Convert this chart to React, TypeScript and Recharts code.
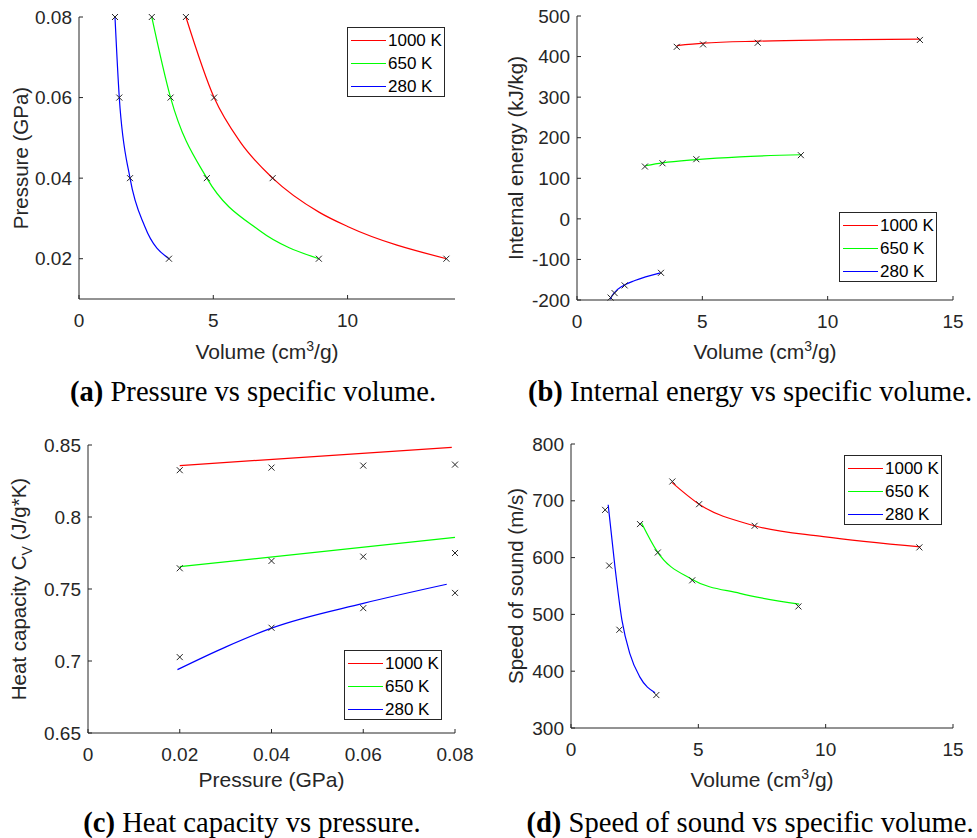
import React from 'react';
import { ComposedChart, Label, Legend, Line, Scatter, XAxis, YAxis } from 'recharts';

const seriesNames = ['1000 K', '650 K', '280 K'];
const seriesColors = ['#ff0000', '#00ff00', '#0000ff'];

// state points (same volumes are used in a, b and d)
const pressureLevels = [0.08, 0.06, 0.04, 0.02];
const volume1000 = [3.98, 5.03, 7.21, 13.68];
const volume650 = [2.71, 3.41, 4.76, 8.93];
const volume280 = [1.34, 1.5, 1.9, 3.35];

const energy1000 = [424, 430, 434, 441];
const energy650 = [129, 137, 147, 157];
const energy280 = [-194, -183, -164, -133];

const cvPressure = [0.02, 0.04, 0.06, 0.08];
const cv1000 = [0.8325, 0.8343, 0.8357, 0.8364];
const cv650 = [0.7644, 0.7695, 0.7725, 0.775];
const cv280 = [0.7027, 0.7231, 0.7367, 0.7473];

const sound1000 = [734, 694, 656, 618];
const sound650 = [659, 609, 560, 514];
const sound280 = [684, 586, 473, 358];

// fitted curves as [x, y]
const fitP1000 = [[3.98, 0.08], [5.03, 0.06], [6.0, 0.049], [7.21, 0.04], [8.95, 0.0315], [10, 0.028], [13.68, 0.02]];
const fitP650 = [[2.71, 0.08], [3.41, 0.06], [4.76, 0.04], [6.72, 0.027], [8.93, 0.02]];
const fitP280 = [[1.34, 0.08], [1.5, 0.06], [1.9, 0.04], [2.45, 0.028], [3.35, 0.02]];

const fitE1000 = [[3.98, 427], [5.04, 433], [7.22, 438], [10, 441], [13.68, 443]];
const fitE650 = [[2.73, 131], [3.41, 138], [4.76, 146], [6.5, 153], [8.94, 158]];
const fitE280 = [[1.32, -198], [1.46, -184], [1.86, -164], [2.31, -152], [3.33, -133]];

const fitC1000 = [[0.02, 0.8357], [0.0793, 0.8484]];
const fitC650 = [[0.02, 0.7655], [0.08, 0.7858]];
const fitC280 = [[0.0195, 0.694], [0.0302, 0.71], [0.04, 0.7228], [0.06, 0.74], [0.0782, 0.7533]];

const fitS1000 = [[3.97, 732], [5.03, 694], [7.21, 656], [9.91, 637], [13.72, 619]];
const fitS650 = [[2.77, 661], [3.38, 611], [4.74, 562], [6.63, 537], [8.96, 518]];
const fitS280 = [[1.46, 693], [1.72, 586], [2.0, 490], [2.31, 431], [2.7, 390], [3.3, 362]];

// ticks
const volumeTicksA = [0, 5, 10];
const volumeTicks = [0, 5, 10, 15];
const pressureTicks = [0.02, 0.04, 0.06, 0.08];
const energyTicks = [-200, -100, 0, 100, 200, 300, 400, 500];
const cvPressureTicks = [0, 0.02, 0.04, 0.06, 0.08];
const cvTicks = [0.65, 0.7, 0.75, 0.8, 0.85];
const soundTicks = [300, 400, 500, 600, 700, 800];

const ink = '#262626';
const sans = '"Liberation Sans", Arial, sans-serif';
const serif = '"Liberation Serif", "Times New Roman", serif';

const pts = (xs: number[], ys: number[]) => xs.map((x, i) => ({ x, y: ys[i] }));
const curve = (pairs: number[][]) => pairs.map(([x, y]) => ({ x, y }));

const Cross = (props: any) => {
  const { cx, cy } = props;
  const s = 3;
  return (
    <path
      d={`M${cx - s},${cy - s}L${cx + s},${cy + s}M${cx - s},${cy + s}L${cx + s},${cy - s}`}
      stroke={ink}
      strokeWidth={1}
      fill="none"
    />
  );
};

const BottomTick = (props: any) => {
  const { x, y, payload } = props;
  return (
    <g>
      <line x1={x} x2={x} y1={y} y2={y - 4} stroke={ink} />
      <text x={x} y={y + 28} textAnchor="middle" fontSize={19} fill={ink} fontFamily={sans}>
        {payload.value}
      </text>
    </g>
  );
};

const LeftTick = (props: any) => {
  const { x, y, payload } = props;
  return (
    <g>
      <line x1={x} x2={x + 4} y1={y} y2={y} stroke={ink} />
      <text x={x - 7} y={y} dy="0.35em" textAnchor="end" fontSize={19} fill={ink} fontFamily={sans}>
        {payload.value}
      </text>
    </g>
  );
};

const TopTick = (props: any) => {
  const { x, y } = props;
  return <line x1={x} x2={x} y1={y} y2={y + 4} stroke={ink} />;
};

const RightTick = (props: any) => {
  const { x, y } = props;
  return <line x1={x} x2={x - 4} y1={y} y2={y} stroke={ink} />;
};

function LegendBox() {
  return (
    <div
      style={{
        boxSizing: 'border-box',
        width: 98,
        height: 70,
        border: `1px solid ${ink}`,
        background: '#fff',
        fontFamily: sans,
        fontSize: 17,
        color: '#000',
        paddingTop: 1,
      }}
    >
      {seriesNames.map((name, i) => (
        <div key={name} style={{ display: 'flex', alignItems: 'center', height: 23 }}>
          <svg width={35} height={3} style={{ marginLeft: 3, marginRight: 2 }}>
            <line x1={0} x2={35} y1={1.5} y2={1.5} stroke={seriesColors[i]} strokeWidth={1.2} />
          </svg>
          <span style={{ lineHeight: '23px' }}>{name}</span>
        </div>
      ))}
    </div>
  );
}

interface PanelProps {
  frame: { left: number; top: number; width: number; height: number };
  plot: { left: number; top: number; right: number; bottom: number };
  xDomain: number[];
  xTicks: number[];
  yDomain: number[];
  yTicks: number[];
  markers: { x: number; y: number }[][];
  curves: { x: number; y: number }[][];
  xLabel: React.ReactNode;
  xLabelGap: number;
  yLabel: React.ReactNode;
  yLabelX: number;
  yLabelY: number;
  legendPos: { left: number; top: number };
}

function Panel(p: PanelProps) {
  const { frame, plot } = p;
  const cx = (plot.left + plot.right) / 2;
  return (
    <div style={{ position: 'absolute', left: frame.left, top: frame.top }}>
      <ComposedChart
        width={frame.width}
        height={frame.height}
        margin={{ top: plot.top, right: frame.width - plot.right, bottom: 0, left: 0 }}
      >
        <XAxis
          dataKey="x"
          type="number"
          domain={p.xDomain}
          ticks={p.xTicks}
          interval={0}
          height={frame.height - plot.bottom}
          tickSize={0}
          tickMargin={0}
          tickLine={false}
          tick={BottomTick}
          axisLine={{ stroke: ink }}
        >
          <Label
            content={() => (
              <text x={cx} y={plot.bottom + p.xLabelGap} textAnchor="middle" fontSize={21} fill={ink} fontFamily={sans}>
                {p.xLabel}
              </text>
            )}
          />
        </XAxis>
        <XAxis
          xAxisId="top"
          orientation="top"
          type="number"
          domain={p.xDomain}
          ticks={p.xTicks}
          interval={0}
          height={0}
          tickSize={0}
          tickMargin={0}
          tickLine={false}
          tick={TopTick}
          axisLine={{ stroke: ink }}
          allowDataOverflow
        />
        <YAxis
          dataKey="y"
          type="number"
          domain={p.yDomain}
          ticks={p.yTicks}
          interval={0}
          width={plot.left}
          tickSize={0}
          tickMargin={0}
          tickLine={false}
          tick={LeftTick}
          axisLine={{ stroke: ink }}
        >
          <Label
            content={() => (
              <text
                transform={`translate(${p.yLabelX},${p.yLabelY}) rotate(-90)`}
                textAnchor="middle"
                fontSize={20.5}
                fill={ink}
                fontFamily={sans}
              >
                {p.yLabel}
              </text>
            )}
          />
        </YAxis>
        <YAxis
          yAxisId="right"
          orientation="right"
          type="number"
          domain={p.yDomain}
          ticks={p.yTicks}
          interval={0}
          width={0}
          tickSize={0}
          tickMargin={0}
          tickLine={false}
          tick={RightTick}
          axisLine={{ stroke: ink }}
          allowDataOverflow
        />
        {p.curves.map((c, i) => (
          <Line
            key={`c${i}`}
            data={c}
            dataKey="y"
            type="monotone"
            stroke={seriesColors[i]}
            strokeWidth={1.2}
            dot={false}
            activeDot={false}
            name={seriesNames[i]}
            isAnimationActive={false}
          />
        ))}
        {p.markers.map((m, i) => (
          <Scatter key={`m${i}`} data={m} shape={Cross} legendType="none" isAnimationActive={false} />
        ))}
        <Legend
          layout="vertical"
          align="center"
          verticalAlign="middle"
          wrapperStyle={{ position: 'absolute', left: p.legendPos.left, top: p.legendPos.top, width: 98, height: 70 }}
          content={() => <LegendBox />}
        />
      </ComposedChart>
    </div>
  );
}

const volumeLabel = (
  <>
    Volume (cm<tspan dy={-8} fontSize={14}>3</tspan>
    <tspan dy={8}>/g)</tspan>
  </>
);

const cvLabel = (
  <>
    Heat capacity C<tspan dy={6} fontSize={14}>V</tspan>
    <tspan dy={-6}> (J/g*K)</tspan>
  </>
);

function Caption({ center, top, tag, text }: { center: number; top: number; tag: string; text: string }) {
  return (
    <div
      style={{
        position: 'absolute',
        left: center - 260,
        top,
        width: 520,
        textAlign: 'center',
        whiteSpace: 'nowrap',
        fontFamily: serif,
        fontSize: 28.6,
        lineHeight: '28.6px',
        color: '#000',
      }}
    >
      <b>{tag}</b> {text}
    </div>
  );
}

export default function App() {
  return (
    <div style={{ position: 'absolute', left: 0, top: 0, width: 977, height: 838, background: '#fff', overflow: 'hidden' }}>
      <Panel
        frame={{ left: 0, top: 0, width: 480, height: 370 }}
        plot={{ left: 79, top: 17, right: 455, bottom: 299 }}
        xDomain={[0, 14]}
        xTicks={volumeTicksA}
        yDomain={[0.01, 0.08]}
        yTicks={pressureTicks}
        markers={[pts(volume1000, pressureLevels), pts(volume650, pressureLevels), pts(volume280, pressureLevels)]}
        curves={[curve(fitP1000), curve(fitP650), curve(fitP280)]}
        xLabel={volumeLabel}
        xLabelGap={60}
        yLabel="Pressure (GPa)"
        yLabelX={27.5}
        yLabelY={158}
        legendPos={{ left: 347, top: 27 }}
      />
      <Panel
        frame={{ left: 490, top: 0, width: 487, height: 370 }}
        plot={{ left: 87, top: 16, right: 463, bottom: 300 }}
        xDomain={[0, 15]}
        xTicks={volumeTicks}
        yDomain={[-200, 500]}
        yTicks={energyTicks}
        markers={[pts(volume1000, energy1000), pts(volume650, energy650), pts(volume280, energy280)]}
        curves={[curve(fitE1000), curve(fitE650), curve(fitE280)]}
        xLabel={volumeLabel}
        xLabelGap={59}
        yLabel="Internal energy (kJ/kg)"
        yLabelX={32.6}
        yLabelY={158}
        legendPos={{ left: 349, top: 212 }}
      />
      <Panel
        frame={{ left: 0, top: 420, width: 480, height: 380 }}
        plot={{ left: 88, top: 25, right: 455, bottom: 313 }}
        xDomain={[0, 0.08]}
        xTicks={cvPressureTicks}
        yDomain={[0.65, 0.85]}
        yTicks={cvTicks}
        markers={[pts(cvPressure, cv1000), pts(cvPressure, cv650), pts(cvPressure, cv280)]}
        curves={[curve(fitC1000), curve(fitC650), curve(fitC280)]}
        xLabel="Pressure (GPa)"
        xLabelGap={54}
        yLabel={cvLabel}
        yLabelX={26}
        yLabelY={169}
        legendPos={{ left: 344, top: 230 }}
      />
      <Panel
        frame={{ left: 490, top: 420, width: 487, height: 380 }}
        plot={{ left: 81, top: 24, right: 463, bottom: 308 }}
        xDomain={[0, 15]}
        xTicks={volumeTicks}
        yDomain={[300, 800]}
        yTicks={soundTicks}
        markers={[pts(volume1000, sound1000), pts(volume650, sound650), pts(volume280, sound280)]}
        curves={[curve(fitS1000), curve(fitS650), curve(fitS280)]}
        xLabel={volumeLabel}
        xLabelGap={59}
        yLabel="Speed of sound (m/s)"
        yLabelX={32.6}
        yLabelY={166}
        legendPos={{ left: 354, top: 35 }}
      />
      <Caption center={253} top={378} tag="(a)" text="Pressure vs specific volume." />
      <Caption center={750} top={378} tag="(b)" text="Internal energy vs specific volume." />
      <Caption center={252} top={809} tag="(c)" text="Heat capacity vs pressure." />
      <Caption center={750} top={809} tag="(d)" text="Speed of sound vs specific volume." />
    </div>
  );
}
